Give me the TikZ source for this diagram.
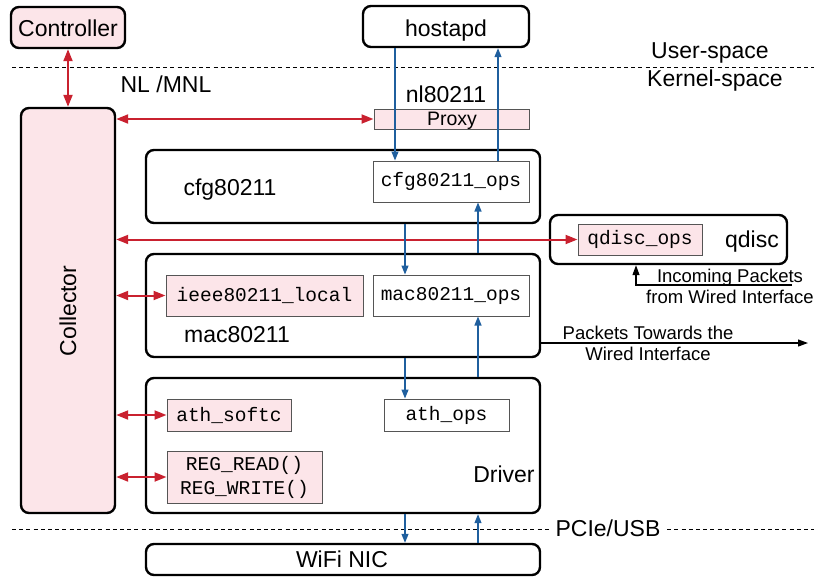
\documentclass[tikz,border=0pt]{standalone}
\usepackage{fontspec}
\setmainfont{Liberation Sans}
\setmonofont{Liberation Mono}
\usetikzlibrary{fit,arrows.meta}

\definecolor{pinkfill}{HTML}{FCE5E9}
\definecolor{linkred}{HTML}{C9212F}
\definecolor{opsblue}{HTML}{1F5F9E}
\definecolor{edgegray}{HTML}{555555}

\tikzset{
  layer/.style={draw=black, line width=1.2pt, rounded corners=4pt, inner sep=0pt},
  opsbox/.style={draw=edgegray, line width=0.5pt, inner sep=0pt, fill=white},
  hooked/.style={opsbox, fill=pinkfill},
  boxtext/.style={font=\fontsize{11.5}{13}\selectfont, inner sep=0pt},
  codetext/.style={font=\fontsize{9.75}{12}\ttfamily, inner sep=0pt, align=center},
  lbl/.style={font=\fontsize{11.5}{13}\selectfont, inner sep=0pt, anchor=base},
  small/.style={font=\fontsize{9.25}{11}\selectfont, inner sep=0pt, anchor=base},
  redlink/.style={draw=linkred, line width=1pt,
                  {Triangle[length=6pt,width=4.5pt]}-{Triangle[length=6pt,width=4.5pt]}},
  callflow/.style={draw=opsblue, line width=0.6pt, -{Triangle[length=4.5pt,width=3.5pt]}},
  plainflow/.style={draw=black, line width=0.6pt, -{Triangle[length=5pt,width=3.5pt]}},
  spacesep/.style={draw=black, line width=0.5pt, dash pattern=on 2pt off 1.6pt}
}

\begin{document}
\begin{tikzpicture}[x=0.5pt, y=-0.5pt]
  \useasboundingbox (0,0) rectangle (814,579);

  % boundaries between user space, kernel space and the bus
  \coordinate (ul) at (12,67);
  \coordinate (ur) at (814,67);
  \coordinate (bl) at (12,529);
  \coordinate (br) at (814,529);
  \draw[spacesep] (ul) -- (ur);
  \draw[spacesep] (bl) -- (br);
  \node[lbl] (user) at (710,58) {User-space};
  \node[lbl] (kernel) at (715,86) {Kernel-space};
  \node[lbl, fill=white, inner xsep=2pt, inner ysep=1pt] (bus) at (608,536) {PCIe/USB};

  % user-space programs
  \node[layer, fill=pinkfill, fit={(11,7) (125,48)}] (ctrl) {};
  \node[lbl] (ctrltext) at (68,36) {Controller};
  \node[layer, fit={(363,6) (529,47)}] (host) {};
  \node[lbl] (hosttext) at (446,36) {hostapd};

  % collector
  \node[layer, fill=pinkfill, fit={(21,108) (115,513)}] (coll) {};
  \node[boxtext, rotate=90] (colltext) at (68,311) {Collector};
  \node[lbl] (nl) at (166,92) {NL /MNL};

  % nl80211 proxy
  \node[lbl] (nltext) at (446,102) {nl80211};
  \node[hooked, fit={(374,109) (529,129)}] (proxy) {};
  \node[font=\fontsize{9.75}{11}\selectfont, inner sep=0pt, anchor=base] (proxytext) at (452,125) {Proxy};

  % cfg80211
  \node[layer, fit={(146,150) (540,223)}] (cfg) {};
  \node[lbl] (cfgtext) at (230,195) {cfg80211};
  \node[opsbox, fit={(373,161) (529,202)}] (cfgops) {};
  \node[codetext] at (cfgops.center) {cfg80211\_ops};

  % qdisc
  \node[layer, fit={(550,215) (787,264)}] (qdisc) {};
  \node[lbl] (qdisctext) at (752,247) {qdisc};
  \node[hooked, fit={(578,224) (702,255)}] (qops) {};
  \node[codetext] at (qops.center) {qdisc\_ops};

  % mac80211
  \node[layer, fit={(146,254) (540,357)}] (mac) {};
  \node[lbl] (mactext) at (237,342) {mac80211};
  \node[hooked, fit={(166,275) (363,316)}] (local) {};
  \node[codetext] at (local.center) {ieee80211\_local};
  \node[opsbox, fit={(373,275) (529,316)}] (macops) {};
  \node[codetext] at (macops.center) {mac80211\_ops};

  % driver
  \node[layer, fit={(146,378) (540,513)}] (drv) {};
  \node[lbl] (drvtext) at (504,482) {Driver};
  \node[hooked, fit={(167,399) (291,431)}] (softc) {};
  \node[codetext] at (softc.center) {ath\_softc};
  \node[opsbox, fit={(384,399) (509,431)}] (athops) {};
  \node[codetext] at (athops.center) {ath\_ops};
  \node[hooked, fit={(167,451) (322,503)}] (reg) {};
  \node[codetext] at (reg.center) {REG\_READ()\\REG\_WRITE()};

  % hardware
  \node[layer, fit={(146,544) (540,575)}] (nic) {};
  \node[lbl] (nictext) at (342,567) {WiFi NIC};

  % collector links
  \draw[redlink] (ctrl.south) -- (coll.north);
  \draw[redlink] (coll.east |- proxy.west) -- (proxy.west);
  \draw[redlink] (coll.east |- qops.west) -- (qops.west);
  \draw[redlink] (coll.east |- local.west) -- (local.west);
  \draw[redlink] (coll.east |- softc.west) -- (softc.west);
  \draw[redlink] (coll.east |- reg.west) -- (reg.west);

  % call paths through the stack
  \coordinate (colA) at (395,0);
  \coordinate (colB) at (498,0);
  \coordinate (colC) at (405,0);
  \coordinate (colD) at (478,0);
  \draw[callflow] (host.south -| colA) -- (cfgops.north -| colA);
  \draw[callflow] (cfgops.north -| colB) -- (host.south -| colB);
  \draw[callflow] (cfg.south -| colC) -- (macops.north -| colC);
  \draw[callflow] (mac.north -| colD) -- (cfgops.south -| colD);
  \draw[callflow] (mac.south -| colC) -- (athops.north -| colC);
  \draw[callflow] (drv.north -| colD) -- (macops.south -| colD);
  \draw[callflow] (drv.south -| colC) -- (nic.north -| colC);
  \draw[callflow] (nic.north -| colD) -- (drv.south -| colD);

  % wired traffic
  \coordinate (towire) at (808,343);
  \draw[plainflow] (mac.east |- towire) -- (towire);
  \node[small] (outtext1) at (648,339) {Packets Towards the};
  \node[small] (outtext2) at (648,360) {Wired Interface};

  \coordinate (incoming) at (792,285);
  \coordinate (incx) at (636,0);
  \draw[plainflow] (incoming) -| (qdisc.south -| incx);
  \node[small] (intext1) at (730,282) {Incoming Packets};
  \node[small] (intext2) at (730,303) {from Wired Interface};
\end{tikzpicture}
\end{document}
